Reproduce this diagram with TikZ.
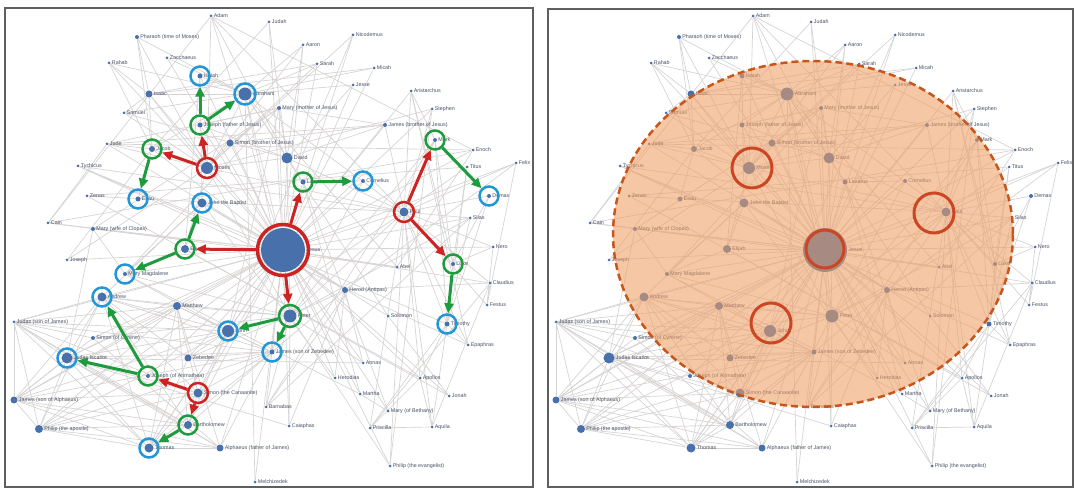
\documentclass[tikz,border=0pt]{standalone}
\usepackage{fontspec}
\setmainfont{Liberation Sans}
\usetikzlibrary{arrows.meta}
\pgfdeclarelayer{bglayer}
\pgfdeclarelayer{edgelayer}
\pgfdeclarelayer{washlayer}
\pgfdeclarelayer{ringlayer}
\pgfsetlayers{bglayer,edgelayer,main,washlayer,ringlayer}

\definecolor{netblue}{RGB}{72,112,170}
\definecolor{edgegray}{RGB}{214,211,210}
\definecolor{lblcol}{RGB}{70,80,100}
\definecolor{ringblue}{RGB}{35,150,215}
\definecolor{ringgreen}{RGB}{30,155,60}
\definecolor{ringred}{RGB}{205,35,35}
\definecolor{washfill}{RGB}{240,158,98}
\definecolor{washline}{RGB}{200,85,25}
\definecolor{ringorange}{RGB}{205,70,35}
\definecolor{framecol}{RGB}{95,95,95}

\tikzset{
  vx/.style={circle,fill=netblue,inner sep=0pt,minimum size=#1*0.02cm},
  lbl/.style={font=\fontsize{3.05}{4}\selectfont,text=lblcol,inner sep=0.4pt},
  lnk/.style={draw=edgegray,line width=0.38pt},
  ringbase/.style={circle,draw,fill=none,inner sep=0pt,line width=0.05cm,minimum size=0.38cm},
  bring/.style={ringbase,draw=ringblue},
  gring/.style={ringbase,draw=ringgreen},
  rring/.style={ringbase,draw=ringred,minimum size=0.4cm},
  oring/.style={circle,draw=ringorange,fill=none,inner sep=0pt,line width=0.06cm},
  redarr/.style={draw=ringred,line width=0.06cm,-{Triangle[length=0.2cm,width=0.18cm]}},
  grnarr/.style={draw=ringgreen,line width=0.06cm,-{Triangle[length=0.2cm,width=0.18cm]}},
  panel/.style={draw=framecol,line width=0.03cm}
}

% one vertex: name, x, y, dot diameter, label
\newcommand\V[5]{\node[vx=#4,label={[lbl]0:#5}] (#1) at (#2,#3) {};}

\def\apostles{andrew,philipa,bartholomew,thomas,matthew,jamesa,canaanite,judasj,iscariot,john,jamesz}

% the whole social network: vertices, then links underneath
\newcommand\netgraph{%
\V{adam}{211}{16}{3}{Adam}
\V{pharaoh}{137}{37}{4}{Pharaoh (time of Moses)}
\V{rahab}{109}{63}{3}{Rahab}
\V{zacch}{167}{58}{3}{Zacchaeus}
\V{isaiah}{200}{76}{5}{Isaiah}
\V{abraham}{245}{94}{13}{Abraham}
\V{isaac}{149}{94}{7}{Isaac}
\V{samuel}{124}{113}{3}{Samuel}
\V{josephf}{200}{125}{5}{Joseph (father of Jesus)}
\V{simonb}{230}{143}{7}{Simon (brother of Jesus)}
\V{jude}{107}{144}{3}{Jude}
\V{jacob}{152}{149}{6}{Jacob}
\V{moses}{207}{168}{12}{Moses}
\V{tychicus}{78}{166}{3}{Tychicus}
\V{zenas}{87}{196}{3}{Zenas}
\V{esau}{138}{199}{5}{Esau}
\V{johnb}{202}{203}{9}{John the Baptist}
\V{cain}{48}{223}{3}{Cain}
\V{maryc}{93}{229}{4}{Mary (wife of Clopas)}
\V{elijah}{185}{249}{8}{Elijah}
\V{josephs}{67}{260}{3}{Joseph}
\V{marym}{125}{274}{4}{Mary Magdalene}
\V{andrew}{102}{297}{9}{Andrew}
\V{matthew}{177}{306}{8}{Matthew}
\V{judasj}{14}{322}{3}{Judas (son of James)}
\V{simonc}{93}{338}{4}{Simon (of Cyrene)}
\V{iscariot}{67}{358}{11}{Judas Iscariot}
\V{zebedee}{188}{358}{7}{Zebedee}
\V{arimathea}{148}{376}{4}{Joseph (of Arimathea)}
\V{canaanite}{198}{393}{9}{Simon (the Canaanite)}
\V{jamesa}{14}{400}{7}{James (son of Alphaeus)}
\V{philipa}{39}{429}{8}{Philip (the apostle)}
\V{bartholomew}{188}{425}{8}{Bartholomew}
\V{thomas}{149}{448}{9}{Thomas}
\V{alphaeus}{220}{448}{7}{Alphaeus (father of James)}
\V{melch}{255}{482}{3}{Melchizedek}
\V{judah}{269}{22}{3}{Judah}
\V{nicodemus}{353}{35}{3}{Nicodemus}
\V{aaron}{303}{45}{3}{Aaron}
\V{sarah}{317}{64}{3}{Sarah}
\V{micah}{374}{68}{3}{Micah}
\V{jesse}{353}{85}{3}{Jesse}
\V{aristarchus}{411}{91}{3}{Aristarchus}
\V{marymj}{279}{108}{4}{Mary (mother of Jesus)}
\V{stephen}{432}{109}{3}{Stephen}
\V{jamesb}{385}{125}{4}{James (brother of Jesus)}
\V{mark}{435}{140}{4}{Mark}
\V{enoch}{473}{150}{3}{Enoch}
\V{david}{287}{158}{11}{David}
\V{felix}{516}{163}{3}{Felix}
\V{titus}{467}{167}{3}{Titus}
\V{lazarus}{303}{182}{5}{Lazarus}
\V{cornelius}{363}{181}{4}{Cornelius}
\V{demas}{489}{196}{4}{Demas}
\V{paul}{404}{212}{9}{Paul}
\V{silas}{470}{218}{3}{Silas}
\V{nero}{493}{247}{3}{Nero}
\V{luke}{453}{264}{4}{Luke}
\V{abel}{397}{267}{3}{Abel}
\V{claudius}{490}{283}{3}{Claudius}
\V{herod}{345}{290}{6}{Herod (Antipas)}
\V{festus}{487}{305}{3}{Festus}
\V{peter}{290}{316}{13}{Peter}
\V{solomon}{388}{316}{3}{Solomon}
\V{john}{228}{331}{12}{John}
\V{timothy}{447}{324}{5}{Timothy}
\V{jamesz}{272}{352}{5}{James (son of Zebedee)}
\V{epaphras}{468}{345}{3}{Epaphras}
\V{annas}{363}{363}{3}{Annas}
\V{herodias}{335}{378}{3}{Herodias}
\V{apollos}{420}{378}{3}{Apollos}
\V{martha}{360}{394}{3}{Martha}
\V{jonah}{449}{396}{3}{Jonah}
\V{barnabas}{266}{407}{3}{Barnabas}
\V{marybeth}{388}{411}{3}{Mary (of Bethany)}
\V{aquila}{432}{427}{3}{Aquila}
\V{priscilla}{370}{428}{3}{Priscilla}
\V{caiaphas}{289}{426}{3}{Caiaphas}
\V{philipe}{390}{466}{3}{Philip (the evangelist)}
\V{jesus}{283}{250}{44}{Jesus}
\begin{pgfonlayer}{edgelayer}
\foreach \a/\nbrs in {%
  jesus/{adam,zacch,isaiah,abraham,isaac,josephf,simonb,jude,jacob,moses,johnb,cain,maryc,elijah,josephs,marym,andrew,matthew,iscariot,zebedee,arimathea,canaanite,jamesa,philipa,bartholomew,thomas,alphaeus,melch,judah,nicodemus,aaron,sarah,micah,jesse,aristarchus,marymj,stephen,jamesb,david,lazarus,cornelius,paul,silas,nero,abel,claudius,herod,peter,solomon,john,jamesz,annas,herodias,apollos,martha,jonah,barnabas,marybeth,caiaphas,philipe,tychicus,enoch,felix,judasj,simonc},
  paul/{tychicus,zenas,aristarchus,stephen,jamesb,mark,felix,titus,demas,silas,nero,luke,claudius,festus,peter,timothy,epaphras,apollos,aquila,priscilla,barnabas,philipe,abraham,moses,david,adam,john},
  peter/{andrew,matthew,alphaeus,zebedee,cornelius,mark,barnabas,silas,annas,caiaphas,herod,philipe,simonc,marym,david,abraham,moses},
  alphaeus/{jamesa,matthew,iscariot,philipa,thomas,judasj},
  zebedee/{jamesz,john,andrew,thomas},
  moses/{pharaoh,aaron,abraham,isaac,jacob,josephs,david,elijah,adam,rahab,sarah,stephen,jude,nicodemus,samuel,josephf,simonb},
  abraham/{pharaoh,rahab,isaac,jacob,sarah,melch,david,micah,jesse,zacch,samuel,abel,aaron,josephf,isaiah,lazarus},
  isaac/{pharaoh,rahab,jacob,sarah,micah,samuel},
  jacob/{pharaoh,josephs,jude,esau,judah,rahab},
  david/{samuel,jesse,solomon,aaron,adam,judah,jamesb,marymj,josephf},
  johnb/{herod,herodias,elijah,isaiah,andrew,marym},
  elijah/{isaiah,jonah,marym},
  marymj/{josephf,jamesb,simonb,john,maryc,marym,jude},
  marym/{maryc,john,martha},
  lazarus/{martha,marybeth,cornelius},
  cain/{abel,enoch,adam,jude},
  iscariot/{caiaphas,annas,maryc},
  simonc/{jamesa,alphaeus,judasj},
  herod/{jamesz,herodias,annas,caiaphas,claudius,felix},
  timothy/{luke,silas,epaphras,aquila,apollos,titus,demas,mark,tychicus,priscilla},
  luke/{mark,demas,aristarchus,titus,nero},
  aquila/{priscilla,apollos,claudius},
  priscilla/{apollos,claudius},
  festus/{felix,nero,claudius},
  martha/{marybeth},
  solomon/{jonah},
  enoch/{abel,adam,jude},
  stephen/{philipe},
  barnabas/{mark,silas},
  aristarchus/{mark,epaphras},
  nicodemus/{john},
  titus/{zenas},
  jamesb/{jude,simonb},
  zenas/{apollos},
  tychicus/{epaphras}}{\foreach \b in \nbrs {\draw[lnk] (\a) -- (\b);}}
\foreach \a [count=\i] in \apostles {%
  \foreach \b [count=\j] in \apostles {%
    \ifnum\j>\i\relax \draw[lnk] (\a) -- (\b); \fi
  }%
}%
\end{pgfonlayer}
}

\begin{document}
\begin{tikzpicture}[x=0.02cm,y=-0.02cm]
\useasboundingbox (0,0) rectangle (1075,489);
\begin{pgfonlayer}{bglayer}
\fill[white] (0,0) rectangle (1075,489);
\end{pgfonlayer}

% ---------- left panel: spreading paths ----------
\draw[panel] (5,8) rectangle (533,487);
\begin{scope}
\netgraph
% source rings
\node[rring,minimum size=1.02cm,line width=0.07cm] (c-jesus) at (jesus) {};
\node[rring] (c-moses) at (moses) {};
\node[rring] (c-paul) at (paul) {};
\node[rring] (c-canaanite) at (canaanite) {};
% first-step rings
\foreach \n in {josephf,jacob,elijah,lazarus,mark,luke,arimathea,bartholomew}
  \node[gring] (c-\n) at (\n) {};
\node[gring,minimum size=0.44cm] (c-peter) at (peter) {};
% second-step rings
\foreach \n in {isaiah,esau,johnb,marym,andrew,cornelius,demas,timothy,john,jamesz,iscariot,thomas}
  \node[bring] (c-\n) at (\n) {};
\node[bring,minimum size=0.42cm] (c-abraham) at (abraham) {};
% first-step arrows
\foreach \s/\t in {jesus/lazarus,jesus/elijah,jesus/peter,moses/josephf,moses/jacob,paul/mark,paul/luke,canaanite/arimathea,canaanite/bartholomew}
  \draw[redarr] (c-\s) -- (c-\t);
% second-step arrows
\foreach \s/\t in {josephf/isaiah,josephf/abraham,jacob/esau,elijah/johnb,elijah/marym,lazarus/cornelius,mark/demas,luke/timothy,peter/john,peter/jamesz,arimathea/andrew,arimathea/iscariot,bartholomew/thomas}
  \draw[grnarr] (c-\s) -- (c-\t);
\end{scope}

% ---------- right panel: community ----------
\draw[panel] (548,9) rectangle (1073,487);
\begin{scope}[shift={(542,0)},name prefix=R-]
\netgraph
\begin{pgfonlayer}{washlayer}
\fill[washfill,fill opacity=0.57] (271,234) ellipse [x radius=4cm,y radius=3.46cm];
\draw[washline,line width=0.05cm,dash pattern=on 0.14cm off 0.08cm] (271,234) ellipse [x radius=4cm,y radius=3.46cm];
\end{pgfonlayer}
\begin{pgfonlayer}{ringlayer}
\node[oring,minimum size=0.76cm] (ring-jesus) at (283,249) {};
\node[oring,minimum size=0.8cm] (ring-moses) at (210,168) {};
\node[oring,minimum size=0.8cm] (ring-paul) at (392,213) {};
\node[oring,minimum size=0.8cm] (ring-john) at (229,323) {};
\end{pgfonlayer}
\end{scope}
\end{tikzpicture}
\end{document}
